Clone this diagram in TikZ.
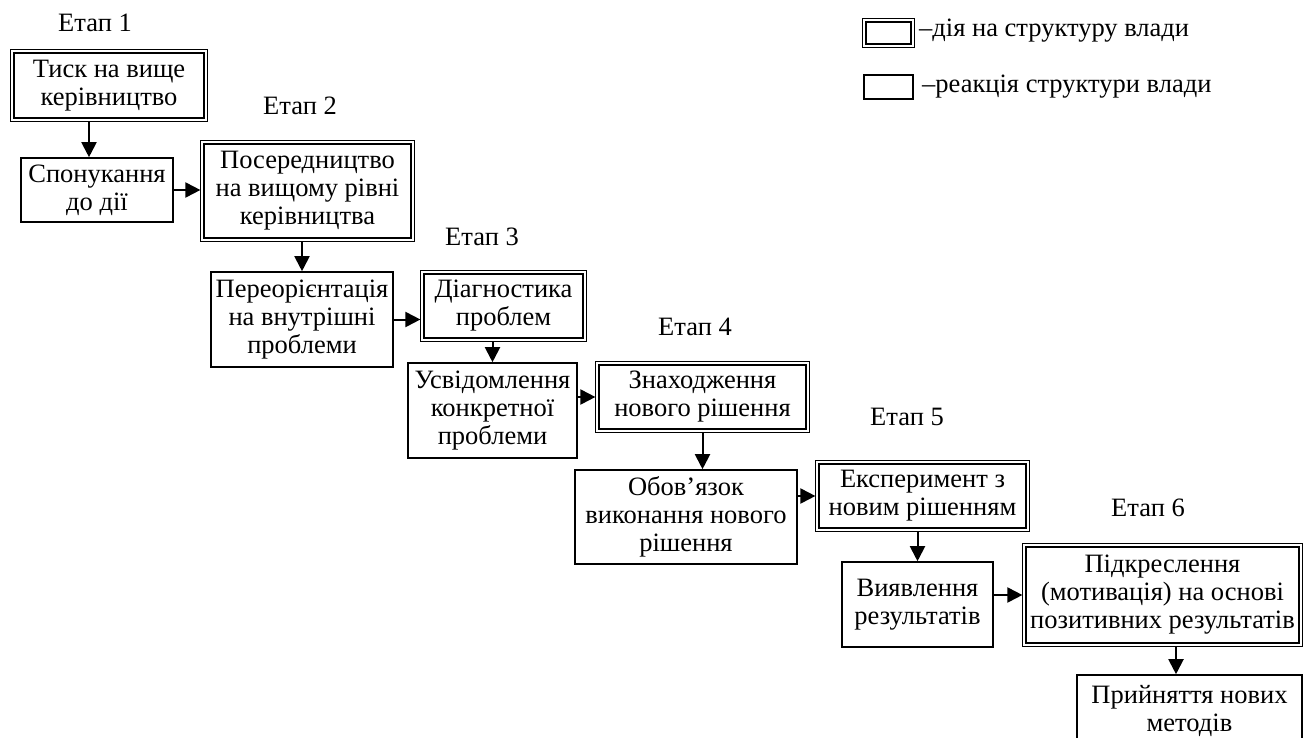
\documentclass[tikz,border=0pt]{standalone}
\usepackage{fontspec}
\setmainfont{Liberation Serif}
\usetikzlibrary{arrows.meta}

\begin{document}
\begin{tikzpicture}[x=1pt,y=-1pt,>={Triangle[length=15pt,width=15pt]},
  every node/.style={font=\fontsize{26.5}{28}\selectfont},
  box/.style={draw,line width=1.6pt,align=center,inner sep=1pt},
  actbox/.style={box,line width=2pt,outer sep=3.6pt,
    append after command={\pgfextra{\draw[line width=1.1pt]
      (\tikzlastnode.north west) rectangle (\tikzlastnode.south east);}}},
  stage/.style={anchor=base},
  arr/.style={->,line width=2pt}]
\useasboundingbox (0,0) rectangle (1312,738);
% legend
\node[actbox,minimum width=45pt,minimum height=22pt] (la) at (888.5,33) {};
\node[anchor=base west,inner sep=0pt] (lat) at (919,37) {–дія на структуру влади};
\node[box,minimum width=49pt,minimum height=24pt] (lr) at (888.5,87) {};
\node[anchor=base west,inner sep=0pt] (lrt) at (922,93) {–реакція структури влади};
% stages
\node[stage] (s1) at (95,32) {Етап 1};
\node[stage] (s2) at (300,115) {Етап 2};
\node[stage] (s3) at (482,245) {Етап 3};
\node[stage] (s4) at (695,335) {Етап 4};
\node[stage] (s5) at (907,425) {Етап 5};
\node[stage] (s6) at (1148,516) {Етап 6};
% boxes
\node[actbox,minimum width=190pt,minimum height=65pt] (t1) at (109,85.5) {Тиск на вище\\керівництво};
\node[box,minimum width=152pt,minimum height=64pt] (r1) at (97,190) {Спонукання\\до дії};
\node[actbox,minimum width=207pt,minimum height=94pt] (a2) at (307.5,191) {Посередництво\\на вищому рівні\\керівництва};
\node[box,minimum width=182pt,minimum height=95pt] (r2) at (302,319.5) {Переорієнтація\\на внутрішні\\проблеми};
\node[actbox,minimum width=159pt,minimum height=64pt] (a3) at (503.5,306) {Діагностика\\проблем};
\node[box,minimum width=169pt,minimum height=95pt] (r3) at (492.5,410.5) {Усвідомлення\\конкретної\\проблеми};
\node[actbox,minimum width=207pt,minimum height=64pt] (a4) at (702.5,397) {Знаходження\\нового рішення};
\node[box,minimum width=222pt,minimum height=94pt] (r4) at (686,517) {Обов’язок\\виконання нового\\рішення};
\node[actbox,minimum width=207pt,minimum height=64pt] (a5) at (922.5,496) {Експеримент з\\новим рішенням};
\node[box,minimum width=151pt,minimum height=85pt] (r5) at (917.5,604.5) {Виявлення\\результатів};
\node[actbox,minimum width=273pt,minimum height=96pt] (a6) at (1162.5,595) {Підкреслення\\(мотивація) на основі\\позитивних результатів};
\node[box,minimum width=225pt,minimum height=71pt] (r6) at (1189.5,710.5) {Прийняття нових\\методів};
% connectors
\coordinate (k1) at (89,0);
\coordinate (k6) at (1176,0);
\draw[arr] (t1.south -| k1) -- (r1.north -| k1);
\draw[arr] (r1.east) -- (r1.east -| a2.west);
\draw[arr] (a2.south -| r2.north) -- (r2.north);
\draw[arr] (r2.east) -- (r2.east -| a3.west);
\draw[arr] (a3.south -| r3.north) -- (r3.north);
\draw[arr] (r3.east |- a4.west) -- (a4.west);
\draw[arr] (a4.south) -- (a4.south |- r4.north);
\draw[arr] (r4.east |- a5.west) -- (a5.west);
\draw[arr] (a5.south -| r5.north) -- (r5.north);
\draw[arr] (r5.east |- a6.west) -- (a6.west);
\draw[arr] (a6.south -| k6) -- (r6.north -| k6);
\end{tikzpicture}
\end{document}
